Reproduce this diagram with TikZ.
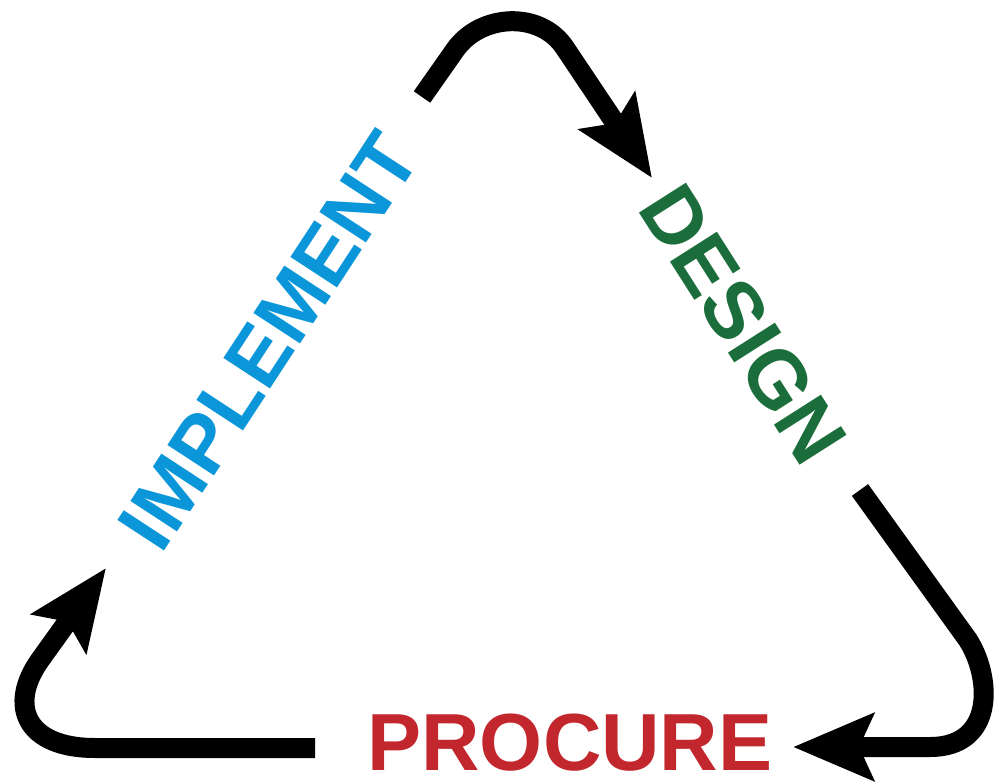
\documentclass[tikz,border=0pt]{standalone}
\usepackage{fontspec}
\setmainfont{Liberation Sans}
\usetikzlibrary{arrows.meta}
\definecolor{implblue}{HTML}{0A96D8}
\definecolor{desgreen}{HTML}{1B6E3B}
\definecolor{procred}{HTML}{C1272D}
\tikzset{
  cyc/.style={line width=20pt, line cap=butt, line join=round,
    -{Stealth[length=80pt, width=66pt, inset=14pt]}},
  lbl/.style={inner sep=0pt, font=\fontsize{81}{90}\selectfont\bfseries}
}
\begin{document}
\begin{tikzpicture}[x=1pt, y=-1pt]
\path[use as bounding box] (0,0) rectangle (994,784);
\node[lbl, text=implblue, rotate=56.8] (impl) at (269,341) {IMPLEMENT};
\node[lbl, text=desgreen, rotate=-57.5] (design) at (743,324) {DESIGN};
\node[lbl, text=procred] (procure) at (570,743) {PROCURE};
% connector end points
\coordinate (a1) at (422,97);
\coordinate (a2) at (652,178);
\coordinate (b1) at (860,490);
\coordinate (b2) at (793,747);
\coordinate (c1) at (315,748);
\coordinate (c2) at (106,568);
\draw[cyc] (a1) -- (455,50) .. controls (480,14) and (540,10) .. (565,48) -- (a2);
\draw[cyc] (b1) -- (968,640) .. controls (992,678) and (995,747) .. (930,747) -- (b2);
\draw[cyc] (c1) -- (95,748) .. controls (25,748) and (8,705) .. (40,660) -- (c2);
\end{tikzpicture}
\end{document}
